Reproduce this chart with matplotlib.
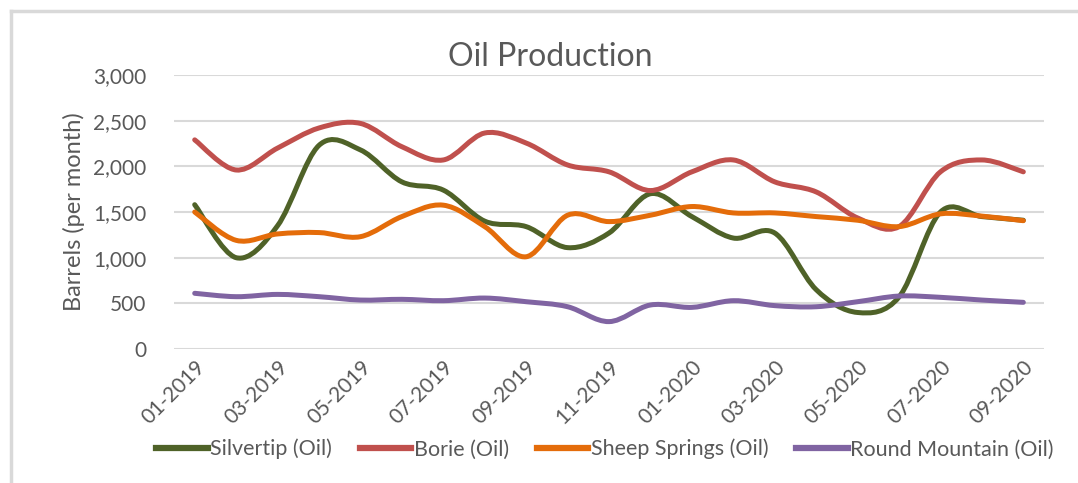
import numpy as np
import matplotlib
matplotlib.use("Agg")
import matplotlib.pyplot as plt
from matplotlib.path import Path
from matplotlib.patches import PathPatch
from matplotlib.lines import Line2D
from matplotlib.ticker import FuncFormatter

plt.rcParams["font.family"] = ["Lato", "DejaVu Sans"]

# monthly data, 01-2019 .. 09-2020
months = ["01-2019", "02-2019", "03-2019", "04-2019", "05-2019", "06-2019",
          "07-2019", "08-2019", "09-2019", "10-2019", "11-2019", "12-2019",
          "01-2020", "02-2020", "03-2020", "04-2020", "05-2020", "06-2020",
          "07-2020", "08-2020", "09-2020"]

silvertip = [1580, 1000, 1350, 2230, 2180, 1830, 1740, 1400, 1340, 1110, 1270,
             1700, 1450, 1215, 1270, 650, 400, 570, 1500, 1450, 1410]
borie = [2290, 1960, 2200, 2420, 2470, 2215, 2070, 2365, 2255, 2015, 1940,
         1735, 1940, 2070, 1830, 1720, 1435, 1340, 1940, 2070, 1940]
sheep_springs = [1500, 1190, 1260, 1275, 1230, 1450, 1575, 1340, 1010, 1465,
                 1395, 1465, 1560, 1490, 1490, 1450, 1410, 1340, 1480, 1455, 1405]
round_mountain = [610, 573, 598, 573, 536, 544, 529, 558, 518, 463, 300, 482,
                  456, 529, 475, 463, 518, 580, 566, 536, 511]

series = [
    ("Silvertip (Oil)", silvertip, "#4F6228"),
    ("Borie (Oil)", borie, "#C0504D"),
    ("Sheep Springs (Oil)", sheep_springs, "#E46C0A"),
    ("Round Mountain (Oil)", round_mountain, "#8064A2"),
]

TXT = "#595959"


def smooth_path(x, y):
    # excel-like smoothed line: cubic bezier through every point
    x = np.asarray(x, float)
    y = np.asarray(y, float)
    pts = np.column_stack([x, y])
    n = len(pts)
    verts = [pts[0]]
    codes = [Path.MOVETO]
    for i in range(n - 1):
        p0 = pts[i - 1] if i > 0 else pts[i]
        p1 = pts[i]
        p2 = pts[i + 1]
        p3 = pts[i + 2] if i + 2 < n else pts[i + 1]
        c1 = p1 + (p2 - p0) / 6.0
        c2 = p2 - (p3 - p1) / 6.0
        verts += [c1, c2, p2]
        codes += [Path.CURVE4] * 3
    return Path(verts, codes)


fig = plt.figure(figsize=(10.78, 4.83), dpi=100)
ax = fig.add_axes([0.1614, 0.2774, 0.8071, 0.5673])

xs = np.arange(len(months))
handles = []
for name, vals, col in series:
    ax.add_patch(PathPatch(smooth_path(xs, vals), facecolor="none",
                           edgecolor=col, lw=3.6, capstyle="round",
                           joinstyle="round", zorder=3))
    handles.append(Line2D([], [], color=col, lw=4.5, label=name))

ax.set_xlim(-0.5, len(months) - 0.5)
ax.set_ylim(0, 3000)
ax.set_yticks(np.arange(0, 3001, 500))
ax.yaxis.set_major_formatter(FuncFormatter(lambda v, p: f"{int(v):,}"))
ax.set_xticks(xs[::2])
ax.set_xticklabels(months[::2], rotation=45, ha="right", va="top",
                   rotation_mode="anchor")
ax.grid(axis="y", color="#D9D9D9", lw=1.5)
ax.set_axisbelow(True)
for s in ax.spines.values():
    s.set_visible(False)
ax.tick_params(length=0, labelsize=15, colors=TXT)
ax.tick_params(axis="y", pad=20)
ax.tick_params(axis="x", pad=6)
ax.set_ylabel("Barrels (per month)", fontsize=17, color=TXT, labelpad=6)

fig.text(0.51, 0.882, "Oil Production", ha="center", va="center",
         fontsize=23, color=TXT)

fig.legend(handles=handles, loc="center", bbox_to_anchor=(0.561, 0.07),
           ncol=4, frameon=False, fontsize=15.5, labelcolor=TXT,
           handlelength=2.4, handletextpad=0.1, columnspacing=1.3)

# chart frame (left and top edges visible)
fig.add_artist(Line2D([0.0102, 0.0102], [0, 0.977], color="#D9D9D9", lw=2.5,
                      transform=fig.transFigure))
fig.add_artist(Line2D([0.0102, 1.0], [0.977, 0.977], color="#D9D9D9", lw=2.5,
                      transform=fig.transFigure))

fig.savefig("out.png", dpi=100, facecolor="white")
